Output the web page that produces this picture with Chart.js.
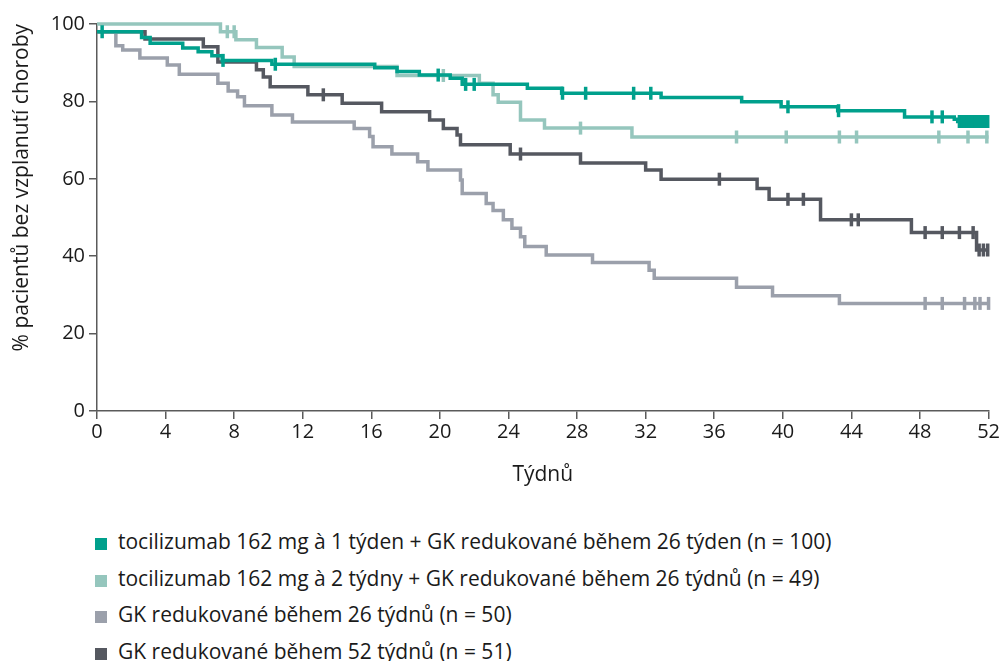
<!DOCTYPE html>
<html lang="cs">
<head>
<meta charset="utf-8">
<title>Přežití bez vzplanutí choroby</title>
<script src="https://cdn.jsdelivr.net/npm/chart.js@4.4.1/dist/chart.umd.min.js"></script>
<style>
    html, body { margin: 0; padding: 0; background: #fff; }
    body { width: 1001px; height: 661px; position: relative; overflow: hidden; font-family: 'Open Sans', sans-serif; }
    #chart-wrap { position: absolute; left: 0; top: 0; width: 1001px; height: 500px; }
    #legend { position: absolute; left: 95px; top: 523px; margin: 0; padding: 0; list-style: none; }
    #legend li { height: 36.5px; line-height: 36.5px; font-size: 21px; color: #1a1a1a; white-space: nowrap; }
    #legend .swatch { display: inline-block; width: 12px; height: 12px; margin-right: 11px; vertical-align: -1px; }
</style>
</head>
<body>
<div id="chart-wrap"><canvas id="km-chart"></canvas></div>
<ul id="legend"></ul>
<script>
// --- DATA (weeks, % without flare) ---
const xTicks = [0, 4, 8, 12, 16, 20, 24, 28, 32, 36, 40, 44, 48, 52];
const yTicks = [0, 20, 40, 60, 80, 100];

const seriesLabels = [
    'tocilizumab 162 mg à 1 týden + GK redukované během 26 týden (n = 100)',
    'tocilizumab 162 mg à 2 týdny + GK redukované během 26 týdnů (n = 49)',
    'GK redukované během 26 týdnů (n = 50)',
    'GK redukované během 52 týdnů (n = 51)'
];
const seriesColors = ['#00a08c', '#95c6bd', '#9ba0ab', '#555860'];

// tocilizumab weekly
const tczWeeklyTimes = [0, 2.6, 3.1, 5.0, 5.9, 6.7, 7.3, 10.2, 16.2, 17.5, 18.8, 20.6, 21.3, 25.1, 27.1, 32.9, 37.6, 39.9, 43.2, 47.1, 50.0, 50.2, 52];
const tczWeeklyValues = [98, 96.5, 95.0, 93.8, 92.8, 91.8, 90.6, 89.6, 88.7, 87.7, 86.8, 86.0, 84.4, 83.4, 82.1, 81.0, 79.9, 78.6, 77.6, 76.0, 75.4, 74.8, 74.8];
const tczWeeklyCensored = [0.3, 7.35, 10.4, 19.9, 21.5, 22.0, 27.15, 28.5, 31.3, 32.3, 40.3, 43.25, 48.7, 49.3,
    50.3, 50.45, 50.6, 50.75, 50.9, 51.05, 51.2, 51.35, 51.5, 51.65, 51.8, 51.95];

// tocilizumab every 2 weeks
const tcz2WeekTimes = [0, 7.2, 8.1, 9.3, 10.8, 11.5, 17.5, 22.3, 23.1, 23.4, 24.7, 26.1, 31.2, 52];
const tcz2WeekValues = [100, 98.0, 95.9, 93.9, 91.5, 89.0, 86.7, 84.7, 81.7, 79.8, 75.2, 73.1, 70.8, 70.8];
const tcz2WeekCensored = [7.6, 8.0, 20.2, 28.2, 37.3, 40.2, 43.3, 44.3, 49.1, 50.8, 51.9];

// GK tapered over 26 weeks
const gk26Times = [0, 1.1, 1.5, 2.5, 4.1, 4.8, 7.05, 7.65, 8.2, 8.6, 10.2, 11.4, 15.0, 15.9, 16.1, 17.2, 18.7, 19.3,
    21.2, 21.3, 22.7, 23.1, 23.7, 24.2, 24.7, 24.95, 26.2, 28.9, 32.2, 32.5, 37.3, 39.4, 43.3, 52];
const gk26Values = [98, 94.4, 93.3, 91.2, 89.4, 87.0, 84.7, 82.7, 81.2, 78.9, 76.5, 74.7, 73.0, 70.9, 68.3, 66.4, 64.4, 62.3,
    59.7, 56.2, 53.6, 51.8, 49.4, 47.2, 45.0, 42.5, 40.3, 38.4, 36.4, 34.3, 32.0, 29.8, 27.8, 27.8];
const gk26Censored = [48.3, 49.3, 50.6, 51.2, 51.5, 52.0];

// GK tapered over 52 weeks
const gk52Times = [0, 2.8, 6.2, 7.05, 9.3, 9.7, 10.1, 12.3, 14.3, 16.6, 19.4, 20.2, 21.0, 21.2, 24.1, 28.2, 32.0, 32.9,
    38.5, 39.2, 42.2, 47.5, 51.3, 52];
const gk52Values = [98, 96.1, 94.1, 90.2, 88.2, 86.3, 83.8, 81.7, 79.5, 77.3, 75.2, 73.0, 71.3, 68.8, 66.4, 64.1, 62.3, 59.9,
    57.5, 54.7, 49.4, 46.1, 41.6, 41.6];
const gk52Censored = [13.2, 24.7, 36.3, 40.3, 41.2, 44.0, 44.4, 48.3, 49.3, 50.3, 51.1, 51.45, 51.7, 51.95];

// --- HELPERS ---
const toPoints = (times, values) => times.map((t, i) => ({ x: t, y: values[i] }));
const valueAt = (times, values, t) => {
    let v = values[0];
    times.forEach((tt, i) => { if (tt <= t) v = values[i]; });
    return v;
};
const censorPoints = (times, values, censored) => censored.map(t => ({ x: t, y: valueAt(times, values, t) }));

const groups = [
    [tczWeeklyTimes, tczWeeklyValues, tczWeeklyCensored],
    [tcz2WeekTimes, tcz2WeekValues, tcz2WeekCensored],
    [gk26Times, gk26Values, gk26Censored],
    [gk52Times, gk52Values, gk52Censored]
];

const datasets = [];
groups.forEach(([times, values, censored], i) => {
    datasets.push({
        label: seriesLabels[i],
        data: toPoints(times, values),
        stepped: 'before',
        borderColor: seriesColors[i],
        borderWidth: 3.5,
        pointRadius: 0,
        fill: false,
        clip: false
    });
    datasets.push({
        label: seriesLabels[i] + ' (cenzurováno)',
        data: censorPoints(times, values, censored),
        showLine: false,
        pointStyle: 'line',
        rotation: 90,
        pointRadius: 6.5,
        pointBorderWidth: 3.5,
        borderColor: seriesColors[i],
        backgroundColor: seriesColors[i],
        clip: false
    });
});

Chart.defaults.font.family = "'Open Sans', sans-serif";
Chart.defaults.font.size = 20;
Chart.defaults.color = '#1a1a1a';

const axisColor = '#5a5a5a';

new Chart(document.getElementById('km-chart'), {
    type: 'line',
    data: { datasets },
    options: {
        responsive: true,
        maintainAspectRatio: false,
        devicePixelRatio: 1,
        animation: false,
        layout: { padding: { left: 9, right: 12, top: 24, bottom: 12 } },
        plugins: { legend: { display: false }, tooltip: { enabled: false } },
        scales: {
            x: {
                type: 'linear',
                min: 0,
                max: 52,
                afterBuildTicks: s => { s.ticks = xTicks.map(v => ({ value: v })); },
                afterFit: s => { s.height = 77; },
                ticks: { padding: 1, maxRotation: 0 },
                grid: { drawOnChartArea: false, tickLength: 8, color: axisColor, lineWidth: 1.5 },
                border: { color: axisColor, width: 1.5 },
                title: { display: true, text: 'Týdnů', font: { size: 21 }, padding: { top: 0, bottom: 0 } }
            },
            y: {
                min: 0,
                max: 100,
                afterBuildTicks: s => { s.ticks = yTicks.map(v => ({ value: v })); },
                afterFit: s => { s.width = 88; },
                ticks: { padding: 4 },
                grid: { drawOnChartArea: false, tickLength: 8, color: axisColor, lineWidth: 1.5 },
                border: { color: axisColor, width: 1.5 },
                title: { display: true, text: '% pacientů bez vzplanutí choroby', align: 'end', font: { size: 21 }, padding: { top: 0, bottom: 0 } }
            }
        }
    }
});

// --- LEGEND ---
const legendList = document.getElementById('legend');
seriesLabels.forEach((label, i) => {
    const li = document.createElement('li');
    const sw = document.createElement('span');
    sw.className = 'swatch';
    sw.style.background = seriesColors[i];
    li.appendChild(sw);
    li.appendChild(document.createTextNode(label));
    legendList.appendChild(li);
});
</script>
</body>
</html>
